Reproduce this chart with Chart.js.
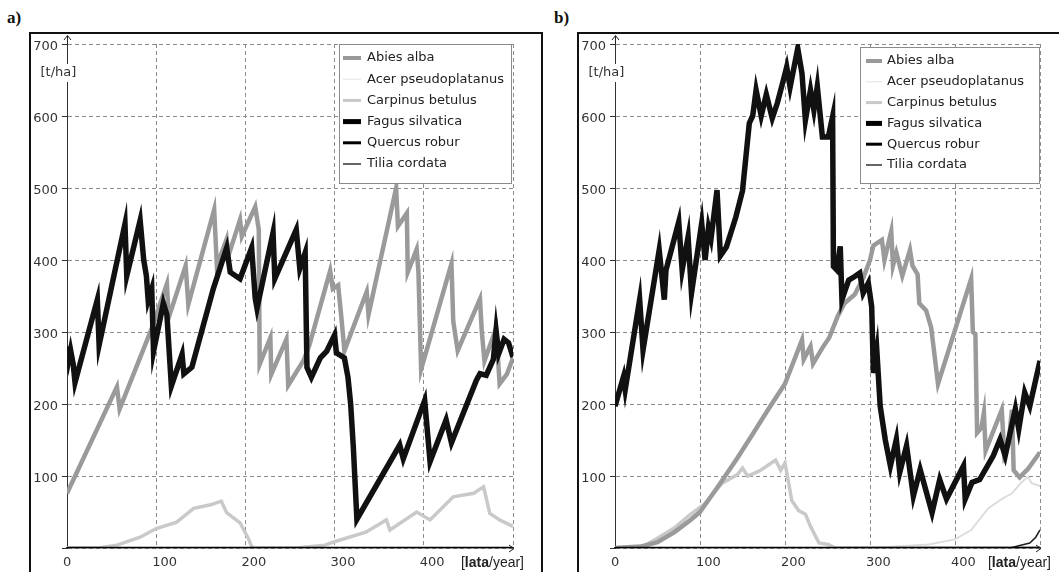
<!DOCTYPE html>
<html><head><meta charset="utf-8">
<script src="https://cdn.jsdelivr.net/npm/chart.js@4.4.1/dist/chart.umd.min.js"></script>
<style>
html,body{margin:0;padding:0;background:#fff;width:1059px;height:572px;overflow:hidden;position:relative;}
.frame{position:absolute;border:2px solid #111;box-sizing:border-box;}
.lbl{position:absolute;font:bold 17px "Liberation Serif",serif;color:#111;}
.wrap{position:absolute;top:0;height:572px;}
canvas{display:block;}
</style></head><body>
<div class="frame" style="left:29px;top:32px;width:514px;height:560px"></div>
<div class="frame" style="left:577px;top:32px;width:500px;height:560px"></div>
<div class="lbl" style="left:7px;top:8px">a)</div>
<div class="lbl" style="left:554px;top:8px">b)</div>
<div class="wrap" style="left:0;width:545px"><canvas id="ca" width="545" height="572"></canvas></div>
<div class="wrap" style="left:545px;width:514px"><canvas id="cb" width="514" height="572"></canvas></div>
<script>
// ---------- data ----------
const SPECIES = ['Abies alba','Acer pseudoplatanus','Carpinus betulus','Fagus silvatica','Quercus robur','Tilia cordata'];
const X_TICKS = [0,100,200,300,400,500];
const X_LABELS = ['0','100','200','300','400',''];
const Y_TICKS = [0,100,200,300,400,500,600,700];
const Y_LABELS = ['','100','200','300','400','500','600','700'];
const Y_UNIT = '[t/ha]';
const X_UNIT_BOLD = 'lata';
const X_UNIT_REST = '/year]';

// panel a) [year, t/ha]
const a_Abies = [[0,76],[56,224],[59,193],[95,305],[112,367],[114,320],[133,392],[136,338],[165,470],[168,392],[179,429],[181,406],[194,456],[196,433],[211,474],[215,442],[216,255],[228,292],[229,241],[246,290],[248,226],[265,260],[272,283],[295,385],[298,360],[304,365],[308,315],[311,274],[336,356],[338,324],[369,500],[371,447],[381,465],[382,383],[392,415],[394,383],[397,248],[431,395],[433,315],[438,274],[463,346],[465,301],[468,260],[481,305],[485,228],[493,241],[500,264]];
const a_Acer = [[0,0],[500,0]];
const a_Carpinus = [[0,0],[35,0],[56,4],[82,15],[100,27],[123,36],[142,55],[161,60],[173,65],[179,49],[194,35],[203,14],[207,2],[210,0],[257,0],[289,4],[298,8],[335,22],[358,39],[362,25],[392,50],[407,39],[433,71],[456,76],[467,85],[474,48],[485,39],[500,30]];
const a_Fagus = [[0,280],[2,262],[4,275],[7,255],[9,230],[34,345],[36,282],[65,450],[67,378],[82,455],[86,400],[89,378],[91,344],[95,360],[97,273],[108,340],[112,324],[117,225],[129,269],[131,242],[140,251],[164,360],[179,417],[183,383],[194,374],[207,417],[211,347],[213,333],[231,438],[233,374],[257,442],[261,388],[267,410],[269,251],[274,237],[284,264],[291,273],[300,296],[302,271],[311,264],[315,237],[318,200],[321,140],[325,40],[373,143],[377,124],[401,205],[407,120],[425,178],[431,146],[459,233],[463,242],[470,240],[478,262],[481,302],[484,270],[490,290],[495,285],[500,265]];
const a_Quercus = [[0,0],[500,0]];
const a_Tilia = [[0,0],[500,0]];

// panel b) [year, t/ha]
const b_Abies = [[0,0],[30,2],[50,8],[70,22],[90,40],[100,50],[121,85],[144,125],[163,160],[180,192],[200,228],[220,289],[222,262],[230,280],[233,256],[244,278],[252,292],[262,322],[270,340],[282,352],[292,375],[300,400],[304,420],[314,428],[317,400],[325,440],[327,392],[331,410],[338,378],[347,414],[350,392],[356,380],[358,340],[366,330],[372,306],[380,228],[419,374],[421,300],[424,297],[426,160],[431,167],[434,188],[436,135],[441,150],[455,192],[458,130],[463,145],[467,192],[469,108],[476,98],[486,110],[500,133]];
const b_Acer = [[0,0],[300,0],[330,2],[369,5],[400,12],[419,25],[439,55],[455,68],[467,76],[478,91],[486,99],[490,90],[500,86]];
const b_Carpinus = [[0,0],[30,0],[48,12],[70,28],[87,45],[106,62],[126,90],[144,102],[150,111],[156,100],[170,107],[189,122],[195,108],[200,118],[208,66],[216,52],[224,47],[230,30],[240,7],[251,5],[259,0],[500,0]];
const b_Fagus = [[0,197],[10,238],[12,220],[29,345],[33,275],[52,414],[58,345],[60,386],[75,453],[79,386],[86,432],[90,354],[102,451],[106,400],[110,445],[113,430],[120,497],[124,406],[131,418],[142,459],[150,496],[158,590],[162,600],[166,636],[172,600],[178,630],[185,597],[191,618],[197,645],[202,668],[206,640],[215,694],[220,659],[224,594],[230,636],[234,608],[238,641],[244,571],[251,571],[256,599],[257,391],[261,386],[265,419],[267,345],[271,359],[275,372],[282,377],[288,382],[292,354],[298,368],[302,335],[304,243],[308,275],[312,197],[318,150],[324,114],[331,151],[335,105],[343,142],[351,72],[359,109],[373,49],[382,95],[390,68],[410,114],[412,68],[420,91],[429,95],[445,128],[453,151],[459,128],[471,193],[475,165],[482,216],[488,197],[500,260]];
const b_Quercus = [[0,0],[500,0]];
const b_Tilia = [[0,0],[465,0],[475,3],[488,7],[495,15],[500,25]];

// ---------- styles ----------
const STYLES = [
  {color:'#9a9a9a', width:4.5, order:2, lgColor:'#999', lgWidth:4},
  {color:'#dcdcdc', width:2,   order:5, lgColor:'#e2e2e2', lgWidth:1},
  {color:'#c9c9c9', width:3.5, order:4, lgColor:'#c8c8c8', lgWidth:3},
  {color:'#111111', width:5.5, order:1, lgColor:'#000', lgWidth:5},
  {color:'#000000', width:2.5, order:0, lgColor:'#000', lgWidth:3},
  {color:'#222222', width:1.6, order:0, lgColor:'#333', lgWidth:1.5}
];
const FONT = '"DejaVu Sans", sans-serif';

function makeDatasets(series){
  return series.map((pts,i)=>({
    label: SPECIES[i],
    data: pts.map(p=>({x:p[0], y:p[1]})),
    borderColor: STYLES[i].color,
    borderWidth: STYLES[i].width,
    order: STYLES[i].order,
    pointRadius: 0,
    tension: 0,
    fill: false,
    borderJoinStyle: 'miter'
  }));
}

const deco = {
  id:'deco',
  afterDraw(chart, args, opts){
    const {ctx, chartArea:ca} = chart;
    ctx.save();
    const x0 = Math.round(ca.left)+0.5, y0 = ca.top;
    ctx.strokeStyle='#222'; ctx.lineWidth=1; ctx.setLineDash([]);
    ctx.beginPath();
    ctx.moveTo(x0, y0); ctx.lineTo(x0, y0-8);
    ctx.moveTo(x0-3.5, y0-4); ctx.lineTo(x0, y0-8.5); ctx.lineTo(x0+3.5, y0-4);
    ctx.stroke();
    ctx.font = '13px '+FONT; ctx.textBaseline='middle'; ctx.textAlign='left';
    const tw = ctx.measureText(Y_UNIT).width;
    ctx.fillStyle='#fff'; ctx.fillRect(x0-28, 64, tw+3, 18);
    ctx.fillStyle='#333'; ctx.fillText(Y_UNIT, x0-27, 73);
    const xr = ca.right, yb = Math.round(ca.bottom)+0.5;
    ctx.beginPath();
    ctx.moveTo(xr-4, yb-3.5); ctx.lineTo(xr+1, yb); ctx.lineTo(xr-4, yb+3.5);
    ctx.stroke();
    ctx.textAlign='left';
    const reg = '14px "Liberation Sans", Arial, sans-serif', bold = 'bold 14px "Liberation Sans", Arial, sans-serif';
    ctx.font = reg;
    const w1 = ctx.measureText('[').width, w3 = ctx.measureText(X_UNIT_REST).width;
    ctx.font = bold;
    const w2 = ctx.measureText(X_UNIT_BOLD).width;
    const xs = ca.right + 11 - (w1+w2+w3);
    ctx.fillStyle='#222';
    ctx.font = reg; ctx.fillText('[', xs, 563);
    ctx.font = bold; ctx.fillText(X_UNIT_BOLD, xs+w1, 563);
    ctx.font = reg; ctx.fillText(X_UNIT_REST, xs+w1+w2, 563);
    const b = opts.box;
    ctx.fillStyle='#fff'; ctx.fillRect(b.x, b.y, b.w, b.h);
    ctx.strokeStyle='#8a8a8a'; ctx.lineWidth=1; ctx.strokeRect(b.x+0.5, b.y+0.5, b.w, b.h);
    ctx.font='13px '+FONT; ctx.textBaseline='middle'; ctx.textAlign='left';
    SPECIES.forEach((name,i)=>{
      const cy = b.y + 14 + i*b.dy;
      ctx.strokeStyle = STYLES[i].lgColor; ctx.lineWidth = STYLES[i].lgWidth;
      ctx.beginPath(); ctx.moveTo(b.x+b.sx, cy); ctx.lineTo(b.x+22, cy); ctx.stroke();
      ctx.fillStyle='#222'; ctx.fillText(name, b.x+b.tx, cy);
    });
    ctx.restore();
  }
};

function makeChart(id, series, yWidth, padRight, box){
  return new Chart(document.getElementById(id), {
    type:'line',
    data:{datasets: makeDatasets(series)},
    options:{
      responsive:false, animation:false, devicePixelRatio:1,
      layout:{padding:{left:0, top:44, right:padRight, bottom:0}},
      plugins:{legend:{display:false}, tooltip:{enabled:false}, deco:{box}},
      scales:{
        x:{type:'linear', min:0, max:500,
          afterBuildTicks:s=>{ s.ticks = X_TICKS.map(v=>({value:v})); },
          ticks:{align:'start', labelOffset:-4, padding:7, color:'#333', font:{family:FONT, size:13},
            callback:(v)=>X_LABELS[X_TICKS.indexOf(v)] ?? ''},
          grid:{color:'#8c8c8c', lineWidth:1, drawTicks:false},
          border:{color:'#333', width:1.5, dash:[4,3]},
          afterFit:s=>{ s.height = 24; }
        },
        y:{type:'linear', min:0, max:700,
          afterBuildTicks:s=>{ s.ticks = Y_TICKS.map(v=>({value:v})); },
          ticks:{padding:4, labelOffset:3, color:'#333', font:{family:FONT, size:13},
            callback:(v)=>Y_LABELS[Y_TICKS.indexOf(v)] ?? ''},
          grid:{color:'#8c8c8c', lineWidth:1, tickLength:5, tickColor:'#333'},
          border:{color:'#333', width:1, dash:[4,3]},
          afterFit:s=>{ s.width = yWidth; }
        }
      }
    },
    plugins:[deco]
  });
}

makeChart('ca', [a_Abies,a_Acer,a_Carpinus,a_Fagus,a_Quercus,a_Tilia], 67, 32,
  {x:339, y:44, w:172, h:139, dy:21.2, sx:4, tx:28});
makeChart('cb', [b_Abies,b_Acer,b_Carpinus,b_Fagus,b_Quercus,b_Tilia], 70, 19,
  {x:315, y:47, w:179, h:136, dy:20.8, sx:6, tx:27});
</script>
</body></html>
